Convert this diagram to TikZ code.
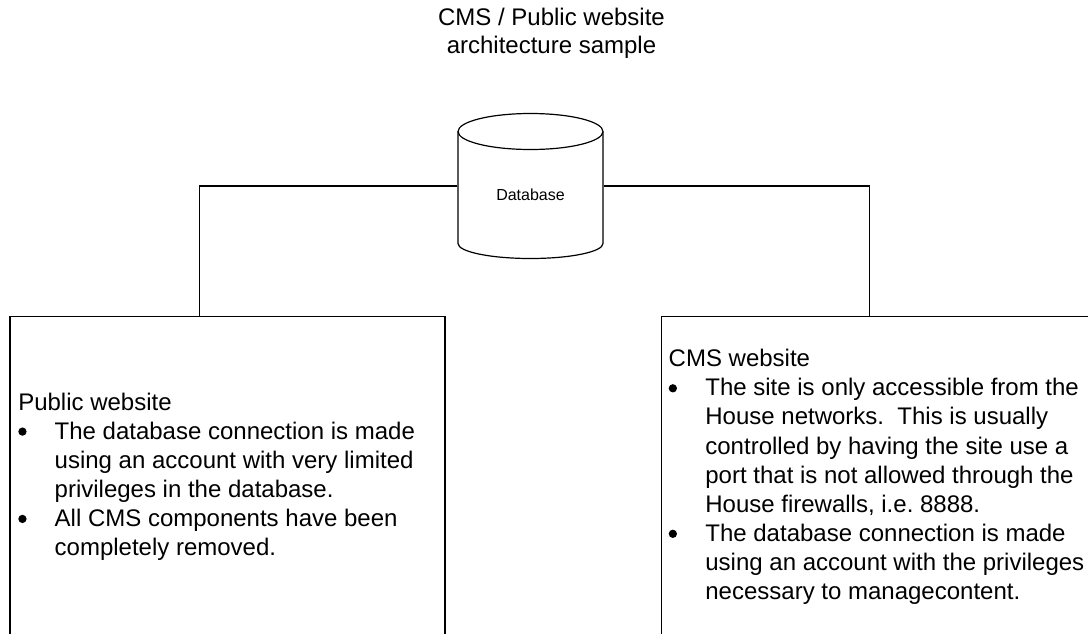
\documentclass[tikz,border=0pt]{standalone}
\usepackage{fontspec}
\setmainfont{Liberation Sans}
\usepackage{array}
\frenchspacing

% round list marker, a bit bigger than the font's own bullet
\newcommand{\bulletdot}{\tikz[baseline=-7.5pt]\fill (0,0) circle (4.15pt);}

\begin{document}
\begin{tikzpicture}[x=1pt, y=1pt, line width=1.2pt,
        panel/.style={draw, anchor=north west, inner sep=0},
        notes/.style={anchor=base west, inner sep=0, font=\fontsize{24}{29.1}\selectfont}]
        \useasboundingbox (0,0) rectangle (1088,-633);
        \clip (0,0) rectangle (1088,-633);

        % heading
        \node (title) [anchor=base, inner sep=0, font=\fontsize{24}{28.3}\selectfont] at (551.5,-25)
            {\begin{tabular}[t]{@{}c@{}}CMS / Public website\\architecture sample\end{tabular}};

        % database drum
        \node (db) [minimum width=145pt, minimum height=112pt, inner sep=0] at (530.5,-186) {};
        \draw (530.5,-131.5) ellipse [x radius=72.5pt, y radius=18pt];
        \draw (458,-131.5) -- (458,-243.5) arc [start angle=180, end angle=360, x radius=72.5pt, y radius=15pt] -- (603,-131.5);
        \node (dbname) [anchor=base, inner sep=0, font=\fontsize{16}{19}\selectfont] at (530.5,-200) {Database};

        % the two sites, running off the bottom
        \node (pub) [panel, minimum width=435pt, minimum height=330pt] at (9.3,-315.7) {};
        \node (cms) [panel, minimum width=450pt, minimum height=330pt] at (661,-315.7) {};

        \draw (db.west) -| ([xshift=190pt]pub.north west);
        \draw (db.east) -| ([xshift=208.3pt]cms.north west);

        \node (pubtext) [notes] at (18.1,-410) {\begin{tabular}[t]{@{}p{36.4pt}@{}l@{}}
            \multicolumn{2}{@{}l@{}}{Public website}\\
            \bulletdot & The database connection is made\\
             & using an account with very limited\\
             & privileges in the database.\\
            \bulletdot & All CMS components have been\\
             & completely removed.
        \end{tabular}};

        \node (cmstext) [notes] at (668.5,-366.7) {\begin{tabular}[t]{@{}p{36.7pt}@{}l@{}}
            \multicolumn{2}{@{}l@{}}{CMS website}\\
            \bulletdot & The site is only accessible from the\\
             & House networks.\ \ This is usually\\
             & controlled by having the site use a\\
             & port that is not allowed through the\\
             & House firewalls, i.e. 8888.\\
            \bulletdot & The database connection is made\\
             & using an account with the privileges\\
             & necessary to managecontent.
        \end{tabular}};
\end{tikzpicture}
\end{document}
